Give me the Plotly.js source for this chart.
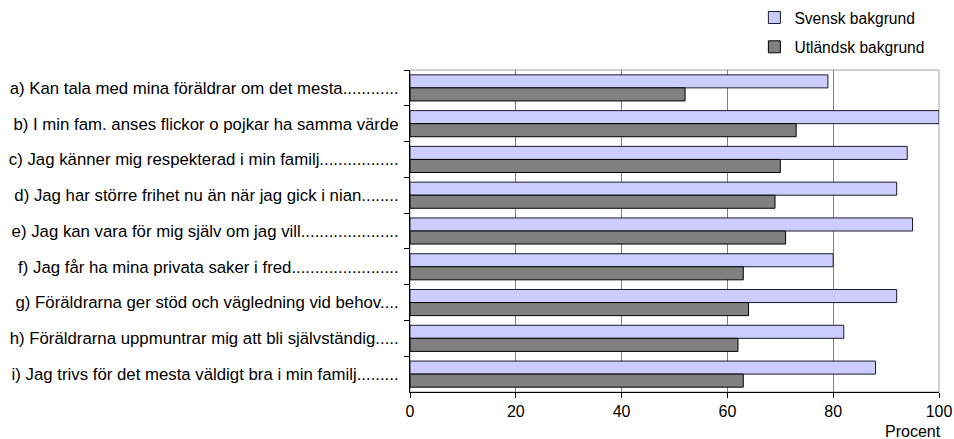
<!DOCTYPE html>
<html>
<head>
<meta charset="utf-8">
<script src="https://cdn.plot.ly/plotly-3.0.1.min.js"></script>
<style>html,body{margin:0;padding:0;background:#fff;}#chart{width:954px;height:439px;}</style>
</head>
<body>
<div id="chart"></div>
<script>
var categories = [
  "a) Kan tala med mina föräldrar om det mesta............",
  "b) I min fam. anses flickor o pojkar ha samma värde",
  "c) Jag känner mig respekterad i min familj.................",
  "d) Jag har större frihet nu än när jag gick i nian........",
  "e) Jag kan vara för mig själv om jag vill.....................",
  "f) Jag får ha mina privata saker i fred.......................",
  "g) Föräldrarna ger stöd och vägledning vid behov....",
  "h) Föräldrarna uppmuntrar mig att bli självständig.....",
  "i) Jag trivs för det mesta väldigt bra i min familj........."
];
var svensk = [79, 100, 94, 92, 95, 80, 92, 82, 88];
var utlandsk = [52, 73, 70, 69, 71, 63, 64, 62, 63];
var seriesNames = ["Svensk bakgrund", "Utländsk bakgrund"];
var xTicks = [0, 20, 40, 60, 80, 100];
var xAxisLabel = "Procent";

var font = "Liberation Sans, Arial, sans-serif";
var traces = [
  {type: "bar", orientation: "h", name: seriesNames[0], y: categories, x: svensk,
   legendgroup: "s",
   marker: {color: "#CCCCFF", line: {color: "#1a1a2e", width: 1}}, hoverinfo: "x"},
  {type: "bar", orientation: "h", name: seriesNames[1], y: categories, x: utlandsk,
   legendgroup: "u",
   marker: {color: "#808080", line: {color: "#000000", width: 1}}, hoverinfo: "x"}
];
var layout = {
  width: 954, height: 439,
  margin: {l: 410, r: 15, t: 70, b: 47, pad: 0},
  paper_bgcolor: "#ffffff", plot_bgcolor: "#ffffff",
  font: {family: font, size: 16, color: "#000"},
  barmode: "group", bargap: 0.27, bargroupgap: 0,
  showlegend: true,
  legend: {x: 0.651, xanchor: "left", y: 0.998, yref: "container", yanchor: "top",
           traceorder: "grouped", tracegroupgap: 6,
           font: {family: font, size: 15.6, color: "#000"}, bgcolor: "rgba(0,0,0,0)",
           itemwidth: 30},
  xaxis: {range: [0, 100], tickvals: xTicks, ticktext: xTicks.map(String),
          showgrid: true, gridcolor: "#808080", gridwidth: 1,
          showline: true, linecolor: "#000", linewidth: 1,
          ticks: "outside", ticklen: 5, tickcolor: "#000",
          tickfont: {family: font, size: 16}, zeroline: false, fixedrange: true},
  yaxis: {type: "category", autorange: "reversed",
          showline: true, linecolor: "#000", linewidth: 1,
          ticks: "outside", ticklen: 5, tickcolor: "#000", tickson: "boundaries",
          showgrid: false, tickfont: {family: font, size: 16.8}, ticklabelstandoff: 7,
          fixedrange: true},
  shapes: [{type: "rect", xref: "paper", yref: "paper", x0: 0, x1: 1, y0: 0, y1: 1,
            line: {color: "#a0a0a0", width: 1}, layer: "below"}],
  annotations: [{text: xAxisLabel, xref: "paper", yref: "paper", x: 1.008, y: 0,
                 xanchor: "right", yanchor: "top", yshift: -29, showarrow: false,
                 font: {family: font, size: 16, color: "#000"}}]
};
Plotly.newPlot("chart", traces, layout, {displayModeBar: false, staticPlot: true});
</script>
</body>
</html>
